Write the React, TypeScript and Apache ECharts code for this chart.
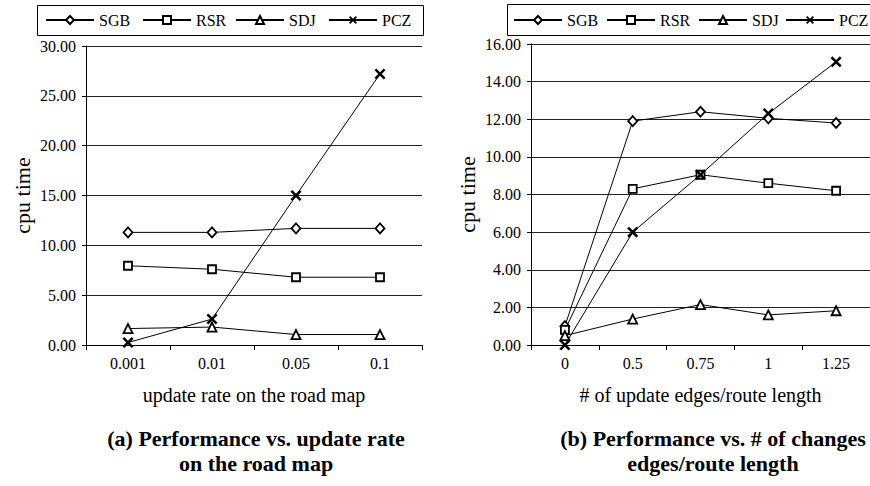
import React, { useEffect, useRef } from 'react';
import * as echarts from 'echarts';

const seriesNames = ['SGB', 'RSR', 'SDJ', 'PCZ'];

// Panel (a): update rate on the road map
const catsA = ['0.001', '0.01', '0.05', '0.1'];
const sgbA = [11.3, 11.3, 11.7, 11.7];
const rsrA = [7.95, 7.6, 6.8, 6.8];
const sdjA = [1.65, 1.8, 1.05, 1.05];
const pczA = [0.25, 2.6, 15.0, 27.2];

// Panel (b): # of update edges / route length
const catsB = ['0', '0.5', '0.75', '1', '1.25'];
const sgbB = [1.0, 11.9, 12.4, 12.05, 11.8];
const rsrB = [0.8, 8.3, 9.05, 8.6, 8.2];
const sdjB = [0.5, 1.38, 2.15, 1.6, 1.82];
const pczB = [0.0, 6.0, 9.05, 12.3, 15.05];

const yMaxA = 30;
const yStepA = 5;
const yMaxB = 16;
const yStepB = 2;

const FONT = 'Liberation Serif, Times New Roman, DejaVu Serif, serif';
const X_PATH =
  'path://M0,1.6 L1.6,0 L5,3.4 L8.4,0 L10,1.6 L6.6,5 L10,8.4 L8.4,10 L5,6.6 L1.6,10 L0,8.4 L3.4,5 Z';

const markerStyle: Record<string, any> = {
  SGB: { symbol: 'diamond', symbolSize: [9, 10], fill: '#fff', bw: 1.8 },
  RSR: { symbol: 'rect', symbolSize: 8, fill: '#fff', bw: 1.8 },
  SDJ: { symbol: 'triangle', symbolSize: 9, fill: '#fff', bw: 1.8 },
  PCZ: { symbol: X_PATH, symbolSize: 11, fill: '#000', bw: 0 },
};

const legendStarts = [
  [45, 142, 235, 328],
  [513, 606, 698, 785],
];

export default function App() {
  const ref = useRef<HTMLDivElement>(null);

  useEffect(() => {
    if (!ref.current) return;
    const chart = echarts.init(ref.current, undefined, { renderer: 'svg' });

    const panels = [
      { cats: catsA, values: [sgbA, rsrA, sdjA, pczA], max: yMaxA, step: yStepA, xName: 'update rate on the road map' },
      { cats: catsB, values: [sgbB, rsrB, sdjB, pczB], max: yMaxB, step: yStepB, xName: '# of update edges/route length' },
    ];

    const series: any[] = [];
    panels.forEach((p, pi) => {
      seriesNames.forEach((name, k) => {
        const m = markerStyle[name];
        series.push({
          type: 'line',
          name,
          xAxisIndex: pi,
          yAxisIndex: pi,
          data: p.values[k],
          symbol: m.symbol,
          symbolSize: m.symbolSize,
          showSymbol: true,
          lineStyle: { color: '#000', width: 1 },
          itemStyle: { color: m.fill, borderColor: '#000', borderWidth: m.bw },
          emphasis: { disabled: true },
          z: 3 + k,
        });
      });
    });

    const labelStyle = { color: '#000', fontSize: 16, fontFamily: FONT };

    const option: any = {
      animation: false,
      backgroundColor: '#fff',
      textStyle: { fontFamily: FONT },
      grid: [
        { left: 86, top: 46, width: 336, height: 299 },
        { left: 531, top: 44, width: 349, height: 301 },
      ],
      xAxis: panels.map((p, pi) => ({
        type: 'category',
        gridIndex: pi,
        data: p.cats,
        boundaryGap: true,
        axisLine: { show: true, lineStyle: { color: '#000', width: 1 } },
        axisTick: { show: true, length: 5, lineStyle: { color: '#000' } },
        axisLabel: { ...labelStyle, margin: 10 },
        splitLine: { show: false },
        name: p.xName,
        nameLocation: 'middle',
        nameGap: 40,
        nameTextStyle: { color: '#000', fontSize: 20, fontFamily: FONT },
      })),
      yAxis: panels.map((p, pi) => ({
        type: 'value',
        gridIndex: pi,
        min: 0,
        max: p.max,
        interval: p.step,
        axisLine: { show: true, lineStyle: { color: '#000', width: 1 } },
        axisTick: { show: true, length: 4, lineStyle: { color: '#000' } },
        axisLabel: { ...labelStyle, margin: 10, formatter: (v: number) => v.toFixed(2) },
        splitLine: { show: true, lineStyle: { color: '#222', width: 1 } },
        name: 'cpu time',
        nameLocation: 'middle',
        nameGap: 53,
        nameTextStyle: { color: '#000', fontSize: 22, fontFamily: FONT },
      })),
      legend: legendStarts.flatMap((starts) =>
        starts.map((x, k) => ({
          data: [seriesNames[k]],
          left: x,
          top: 11,
          padding: 0,
          itemWidth: 48,
          itemHeight: 10,
          itemGap: 0,
          selectedMode: false,
          textStyle: { color: '#000', fontSize: 16, fontFamily: FONT, lineHeight: 18 },
        }))
      ),
      graphic: [
        {
          type: 'rect',
          silent: true,
          shape: { x: 37.5, y: 5.5, width: 386, height: 30 },
          style: { fill: 'none', stroke: '#000', lineWidth: 1 },
        },
        {
          type: 'rect',
          silent: true,
          shape: { x: 507.5, y: 4.5, width: 380, height: 31 },
          style: { fill: 'none', stroke: '#000', lineWidth: 1 },
        },
        {
          type: 'text',
          x: 256,
          y: 426,
          silent: true,
          style: {
            text: '(a) Performance vs. update rate\non the road map',
            fontSize: 22,
            fontWeight: 'bold',
            fontFamily: FONT,
            lineHeight: 25,
            fill: '#000',
            align: 'center',
            verticalAlign: 'top',
            textAlign: 'center',
            textVerticalAlign: 'top',
          },
        },
        {
          type: 'text',
          x: 713,
          y: 426,
          silent: true,
          style: {
            text: '(b) Performance vs. # of changes\nedges/route length',
            fontSize: 22,
            fontWeight: 'bold',
            fontFamily: FONT,
            lineHeight: 25,
            fill: '#000',
            align: 'center',
            verticalAlign: 'top',
            textAlign: 'center',
            textVerticalAlign: 'top',
          },
        },
      ],
      series,
    };

    chart.setOption(option);
    return () => chart.dispose();
  }, []);

  return (
    <div
      ref={ref}
      style={{ position: 'fixed', left: 0, top: 0, width: 870, height: 486, background: '#fff' }}
    />
  );
}
